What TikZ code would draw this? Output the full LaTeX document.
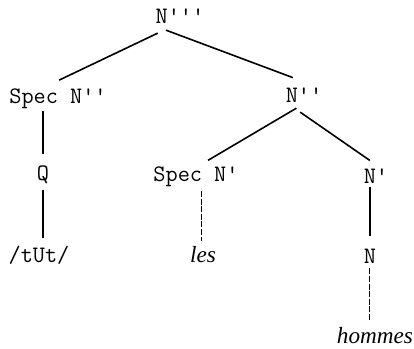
\documentclass[tikz,border=0pt]{standalone}
\usepackage{fontspec}
\newfontfamily\wordfont{Liberation Serif}

\tikzset{
    cat/.style={font=\ttfamily\fontsize{11.8}{14}\selectfont, inner sep=1pt, anchor=base},
    word/.style={font=\wordfont\itshape\fontsize{11.6}{14}\selectfont, inner sep=1pt, anchor=base},
    branch/.style={line width=0.8pt},
    faint/.style={line width=0.5pt, dash pattern=on 3pt off 0.8pt}
}

\begin{document}
\begin{tikzpicture}[x=0.5pt, y=-0.5pt]
    \useasboundingbox (0,0) rectangle (414,349);

    \node (nmax) [cat] at (180,23) {N'''};
    \node (specnn) [cat] at (58,103) {Spec N''};
    \node (nn) [cat] at (304,102) {N''};
    \node (q) [cat] at (43,180) {Q};
    \node (specn) [cat] at (196,181) {Spec N'};
    \node (nbar) [cat] at (376,183) {N'};
    \node (tout) [cat] at (39,262) {/tUt/};
    \node (les) [word] at (203,262) {les};
    \node (nhead) [cat] at (370,263) {N};
    \node (hommes) [word] at (375,343) {hommes};

    \draw [branch, shorten <=9pt, shorten >=6.7pt] ([xshift=-3pt]nmax.south) -- ([xshift=-5.5pt]specnn.north);
    \draw [branch, shorten <=6.8pt, shorten >=10.5pt] (nmax.south west) -- ([xshift=4.25pt]nn.north);
    \draw [branch, shorten <=3.7pt, shorten >=3.5pt] ([xshift=-0.6pt]nn.south) -- ([xshift=3pt]specn.north);
    \draw [branch, shorten <=6.8pt, shorten >=4.8pt] ([xshift=-7.5pt]nn.south) -- ([xshift=0.9pt]nbar.north);
    \draw [branch, shorten >=4.5pt] (q.north |- specnn.south) -- (q.north);
    \draw [branch, shorten <=2pt, shorten >=2.5pt] (q.south) -- (q.south |- tout.north);
    \draw [faint, shorten <=1.2pt, shorten >=1.5pt] ([xshift=-0.5pt]les.north |- specn.south) -- ([xshift=-0.5pt]les.north);
    \draw [branch, shorten <=1pt, shorten >=5pt] (nhead.north |- nbar.south) -- (nhead.north);
    \draw [faint, shorten <=1.5pt, shorten >=1.5pt] (nhead.south) -- (nhead.south |- hommes.north);
\end{tikzpicture}
\end{document}
